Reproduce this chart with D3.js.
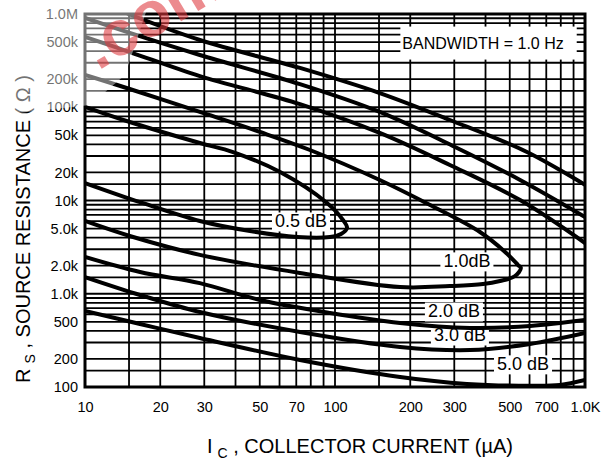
<!DOCTYPE html>
<html>
<head>
<meta charset="utf-8">
<script src="https://d3js.org/d3.v7.min.js"></script>
<style>
    body { margin: 0; background: #fff; }
    svg { display: block; }
    text { font-family: "Liberation Sans", Arial, Helvetica, sans-serif; }
</style>
</head>
<body>
<script>
"use strict";

// axis ticks (collector current in uA, source resistance in ohms)
const icTicks = [10, 20, 30, 50, 70, 100, 200, 300, 500, 700, 1000];
const icTickLabels = ["10", "20", "30", "50", "70", "100", "200", "300", "500", "700", "1.0K"];
const rsTicks = [100, 200, 500, 1000, 2000, 5000, 10000, 20000, 50000, 100000, 200000, 500000, 1000000];
const rsTickLabels = ["100", "200", "500", "1.0k", "2.0k", "5.0k", "10k", "20k", "50k", "100k", "200k", "500k", "1.0M"];
const icGrid = [10, 15, 20, 30, 40, 50, 60, 70, 80, 90, 100, 150, 200, 300, 400, 500, 600, 700, 800, 900, 1000];
const gridMantissas = [1, 1.5, 2, 3, 4, 5, 6, 7, 8, 9];
const gridDecades = [100, 1000, 10000, 100000];

// noise figure contours, [Ic, Rs] pairs
const nf05 = [[10, 101000], [15.1, 69500], [28.8, 41400], [39.1, 33100], [60.3, 20200], [92.9, 9400],
    [107.6, 6180], [111.7, 5070], [105.7, 4380], [95.5, 4060], [70.5, 4060], [45.7, 4710],
    [28.8, 6030], [16.6, 9600], [10, 15400]];
const nf10 = [[10, 222000], [15.1, 157000], [28.8, 89000], [50.1, 54300], [79.4, 34800], [151, 16600],
    [240, 8950], [380, 4590], [479, 2810], [540, 2030], [554, 1890], [525, 1550], [457, 1370],
    [391, 1270], [288, 1210], [182, 1180], [72.4, 1670], [28.8, 2610], [15.1, 4160], [10, 6030]];
const nf20Upper = [[10, 567000], [15.1, 391000], [28.8, 216000], [72.4, 108000], [151, 53000],
    [288, 24000], [550, 10100], [1000, 3500]];
const nf20Lower = [[10, 2480], [16.6, 1710], [28.8, 1300], [50.1, 857], [95.5, 622], [182, 486],
    [347, 430], [603, 451], [1000, 523]];
const nf30Upper = [[10, 906000], [15.1, 626000], [28.8, 363000], [72.4, 177000], [151, 89000],
    [302, 37500], [550, 16600], [1000, 6650]];
const nf30Lower = [[10, 1510], [16.6, 970], [28.8, 637], [72.4, 389], [182, 269], [347, 249],
    [603, 289], [1000, 379]];
const nf50Upper = [[14.9, 1000000], [28.8, 526000], [72.4, 264000], [151, 142000], [288, 73000],
    [586, 33100], [1000, 14700]];
const nf50Lower = [[10, 653], [16.6, 474], [28.8, 335], [72.4, 195], [182, 128], [337, 108],
    [603, 103], [794, 105], [1000, 119]];

const contours = [nf05, nf10, nf20Upper, nf20Lower, nf30Upper, nf30Lower, nf50Upper, nf50Lower];

const labelText = ["0.5 dB", "1.0dB", "2.0 dB", "3.0 dB", "5.0 dB"];
const labelIc = [73.1, 337, 299, 316, 565];
const labelRs = [6030, 2250, 653, 361, 177];

const noteText = "BANDWIDTH = 1.0 Hz";
const noteIc = 391;
const noteRs = 489000;

(function() {
    let svgContainer = "";

    const measurements = {
        width: 606,
        height: 462,
        left: 85,
        right: 585,
        top: 14,
        bottom: 387
    }

    window.onload = function() {
        svgContainer = d3.select("body").append("svg")
            .attr("width", measurements.width)
            .attr("height", measurements.height);

        let scaleX = d3.scaleLog()
            .domain([10, 1000])
            .range([measurements.left, measurements.right]);

        let scaleY = d3.scaleLog()
            .domain([100, 1000000])
            .range([measurements.bottom, measurements.top]);

        drawGrid(scaleX, scaleY);
        drawLabelBoxes(scaleX, scaleY);
        plotData(scaleX, scaleY);
        drawAxes(scaleX, scaleY);
        makeLabels();
        drawWatermark();
    }

    function drawGrid(scaleX, scaleY) {
        let rsGrid = [];
        gridDecades.forEach((dec) => gridMantissas.forEach((mt) => rsGrid.push(dec * mt)));
        rsGrid.push(1000000);

        const grid = svgContainer.append("g")
            .attr("stroke", "#000")
            .attr("stroke-width", 1.8);

        grid.selectAll(".vgrid")
            .data(icGrid)
            .enter()
            .append("line")
            .attr("class", "vgrid")
            .attr("x1", (d) => scaleX(d))
            .attr("x2", (d) => scaleX(d))
            .attr("y1", measurements.top)
            .attr("y2", measurements.bottom);

        grid.selectAll(".hgrid")
            .data(rsGrid)
            .enter()
            .append("line")
            .attr("class", "hgrid")
            .attr("x1", measurements.left)
            .attr("x2", measurements.right)
            .attr("y1", (d) => scaleY(d))
            .attr("y2", (d) => scaleY(d));
    }

    function drawLabelBoxes(scaleX, scaleY) {
        // bandwidth note, white box over the grid
        const note = svgContainer.append("text")
            .attr("x", scaleX(noteIc))
            .attr("y", scaleY(noteRs))
            .attr("dy", "0.35em")
            .attr("text-anchor", "middle")
            .style("font-size", "16px")
            .text(noteText);
        const nb = note.node().getBBox();
        svgContainer.insert("rect", "text")
            .attr("x", nb.x - 2)
            .attr("y", nb.y - 8)
            .attr("width", nb.width + 15)
            .attr("height", nb.height + 16)
            .attr("fill", "#fff");

        labelText.forEach((t, i) => {
            const lbl = svgContainer.append("text")
                .attr("class", "curveLabel")
                .attr("x", scaleX(labelIc[i]))
                .attr("y", scaleY(labelRs[i]))
                .attr("dy", "0.36em")
                .attr("text-anchor", "middle")
                .style("font-size", "18px")
                .text(t);
            const b = lbl.node().getBBox();
            svgContainer.insert("rect", "text")
                .attr("x", b.x - 3)
                .attr("y", b.y + 1)
                .attr("width", b.width + 6)
                .attr("height", b.height - 1)
                .attr("fill", "#fff");
        });
    }

    function plotData(scaleX, scaleY) {
        svgContainer.append("clipPath")
            .attr("id", "plotClip")
            .append("rect")
            .attr("x", measurements.left)
            .attr("y", measurements.top)
            .attr("width", measurements.right - measurements.left)
            .attr("height", measurements.bottom - measurements.top);

        const line = d3.line()
            .x((d) => scaleX(d[0]))
            .y((d) => scaleY(d[1]))
            .curve(d3.curveCatmullRom.alpha(0.5));

        svgContainer.append("g")
            .attr("clip-path", "url(#plotClip)")
            .selectAll("path")
            .data(contours)
            .enter()
            .append("path")
            .attr("d", line)
            .attr("fill", "none")
            .attr("stroke", "#000")
            .attr("stroke-width", 4)
            .attr("stroke-linecap", "round")
            .attr("stroke-linejoin", "round");

        // text on top of the curves
        svgContainer.selectAll("text").raise();

        svgContainer.append("rect")
            .attr("x", measurements.left)
            .attr("y", measurements.top)
            .attr("width", measurements.right - measurements.left)
            .attr("height", measurements.bottom - measurements.top)
            .attr("fill", "none")
            .attr("stroke", "#000")
            .attr("stroke-width", 3);
    }

    function drawAxes(scaleX, scaleY) {
        let xAxis = d3.axisBottom()
            .scale(scaleX)
            .tickValues(icTicks)
            .tickFormat((d, i) => icTickLabels[i])
            .tickSize(0)
            .tickPadding(15);

        let yAxis = d3.axisLeft()
            .scale(scaleY)
            .tickValues(rsTicks)
            .tickFormat((d, i) => rsTickLabels[i])
            .tickSize(0)
            .tickPadding(7);

        const gx = svgContainer.append("g")
            .attr("transform", "translate(0," + measurements.bottom + ")")
            .call(xAxis);
        const gy = svgContainer.append("g")
            .attr("transform", "translate(" + measurements.left + ",0)")
            .call(yAxis);

        [gx, gy].forEach((g) => {
            g.select(".domain").remove();
            g.attr("font-family", null).attr("font-size", null);
            g.selectAll("text")
                .attr("fill", "#000")
                .style("font-size", "14.5px");
        });
    }

    function makeLabels() {
        const xt = svgContainer.append("text")
            .attr("x", 360)
            .attr("y", 453)
            .attr("text-anchor", "middle")
            .style("font-size", "20px");
        xt.append("tspan").text("I");
        xt.append("tspan").attr("dx", 5).attr("dy", 5).style("font-size", "14px").text("C");
        xt.append("tspan").attr("dy", -5).text(" , COLLECTOR CURRENT (\u00B5A)");

        const yt = svgContainer.append("text")
            .attr("transform", "translate(30,229)rotate(-90)")
            .attr("text-anchor", "middle")
            .style("font-size", "20px");
        yt.append("tspan").text("R");
        yt.append("tspan").attr("dx", 5).attr("dy", 5).style("font-size", "14px").text("S");
        yt.append("tspan").attr("dy", -5).text(" , SOURCE RESISTANCE (\u00A0\u03A9\u00A0)");
    }

    function drawWatermark() {
        svgContainer.append("polygon")
            .attr("points", "0,0 150,0 125,75 90,105 0,115")
            .attr("fill", "#fff")
            .attr("opacity", 0.45);

        svgContainer.append("text")
            .attr("transform", "translate(98,71)rotate(-31)")
            .style("font-size", "64px")
            .style("font-weight", "bold")
            .attr("fill", "#e0393e")
            .attr("opacity", 0.58)
            .text(".com");
    }
})();
</script>
</body>
</html>
